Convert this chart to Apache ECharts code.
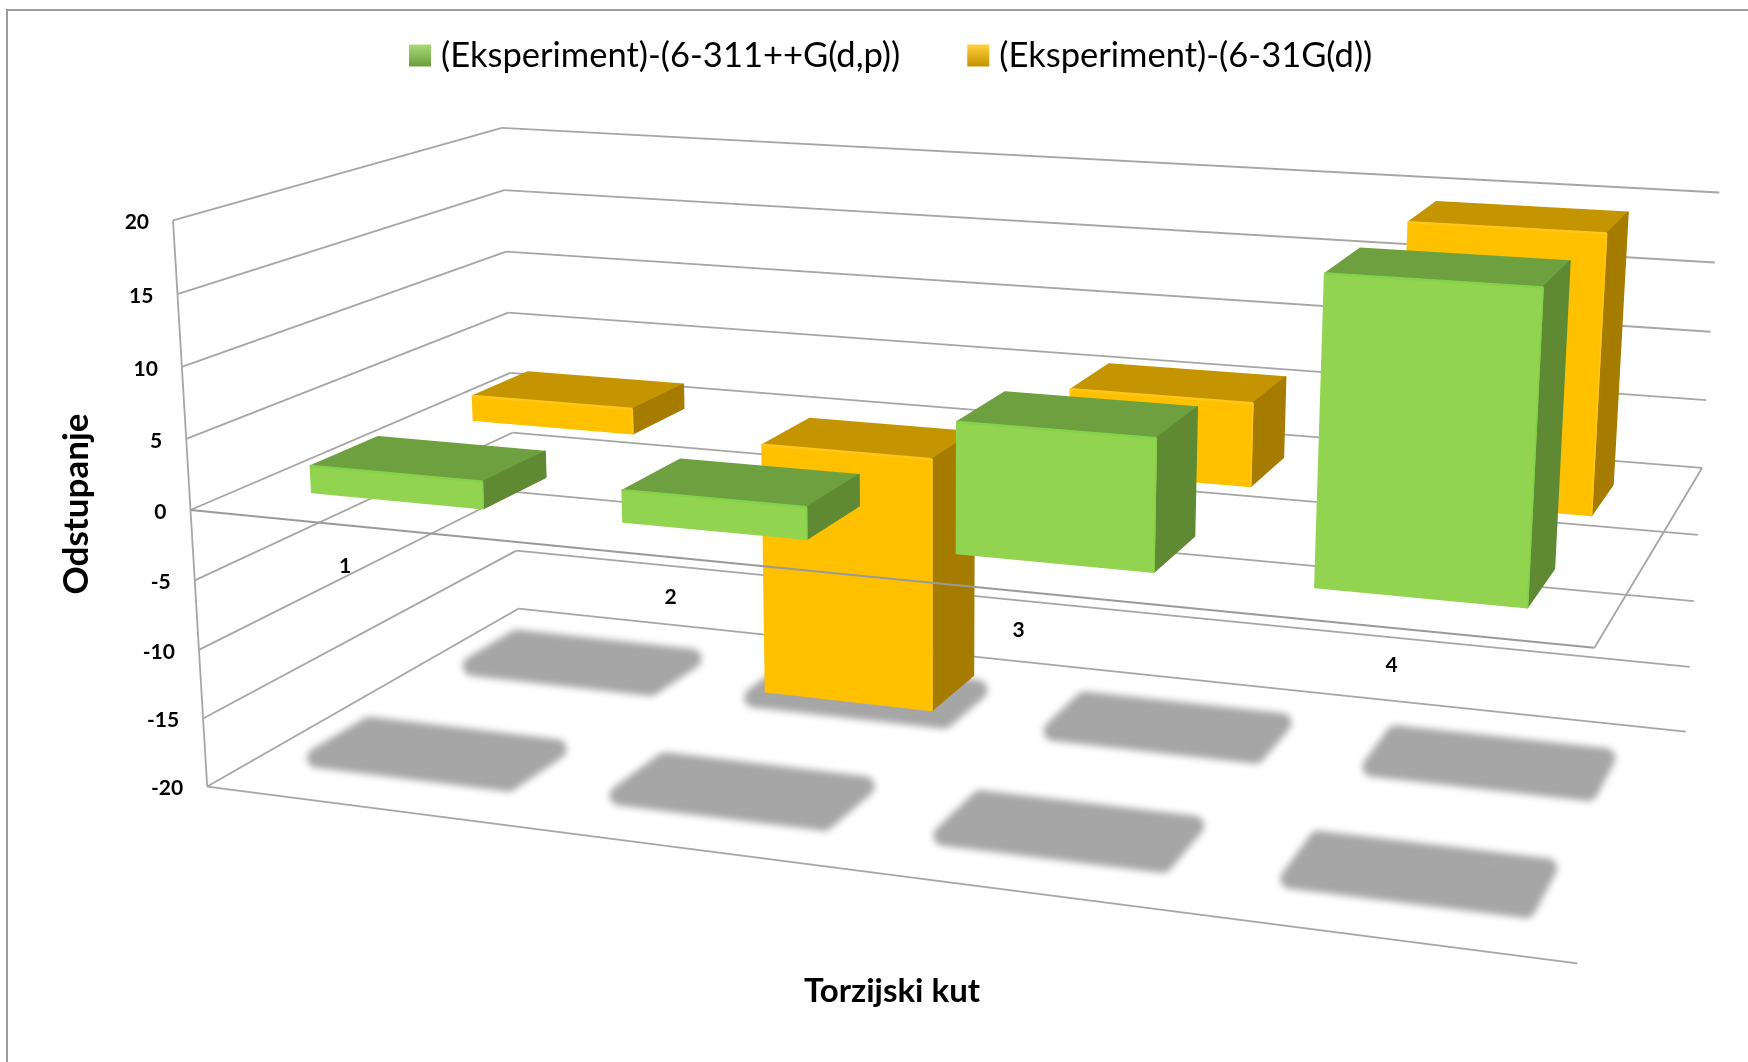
<!DOCTYPE html>
<html><head><meta charset="utf-8">
<style>html,body{margin:0;padding:0;background:#fff}#c{width:1748px;height:1062px}</style>
<script src="https://cdn.jsdelivr.net/npm/echarts@6/dist/echarts.min.js"></script>
</head><body><div id="c"></div>
<script>
const categories = ['1','2','3','4'];
const valueTicks = [20,15,10,5,0,-5,-10,-15,-20];
const seriesNames = ['(Eksperiment)-(6-311++G(d,p))','(Eksperiment)-(6-31G(d))'];
const greenValues = [1.9, 2.2, 8.8, 20];
const yellowValues = [1.9, -19.2, 6, 19.4];

// camera calibration: where the corners of the 3D frame land on the page
// [across 0..1, value 0..1, depth 0..1, pageX, pageY]
const frameAnchors = [
 [0,1,0,172.8,219.6],[0,.5,0,191.7,510.6],[0,0,0,206.2,787],
 [0,1,1,501.7,128.2],[0,.5,1,510.6,373.5],[0,0,1,518.4,607.6],
 [1,1,1,1719,191.7],[1,.5,1,1702.3,468.2],[1,0,1,1685.6,732.4],
 [1,.5,0,1594.2,648.8],[1,0,0,1577.5,962]
];
function solve(A,b){const n=b.length;for(let i=0;i<n;i++){let m=i;for(let r=i+1;r<n;r++)if(Math.abs(A[r][i])>Math.abs(A[m][i]))m=r;
 [A[i],A[m]]=[A[m],A[i]];[b[i],b[m]]=[b[m],b[i]];
 for(let r=i+1;r<n;r++){const f=A[r][i]/A[i][i];for(let c=i;c<n;c++)A[r][c]-=f*A[i][c];b[r]-=f*b[i];}}
 const x=new Array(n);for(let i=n-1;i>=0;i--){let s=b[i];for(let c=i+1;c<n;c++)s-=A[i][c]*x[c];x[i]=s/A[i][i];}return x;}
function calibrate(){const R=[],S=[];frameAnchors.forEach(([u,t,w,px,py])=>{const x=px/1000,y=py/1000;
  R.push([u,t,w,1,0,0,0,0,-x*u,-x*t,-x*w]);S.push(x);R.push([0,0,0,0,u,t,w,1,-y*u,-y*t,-y*w]);S.push(y);});
 const n=11,A=[],b=[];for(let i=0;i<n;i++){A.push(new Array(n).fill(0));b.push(0);
  R.forEach((r,k)=>{for(let j=0;j<n;j++)A[i][j]+=r[i]*r[j];b[i]+=r[i]*S[k];});}
 return solve(A,b);}
const P=calibrate();
function project(u,t,w){const d=P[8]*u+P[9]*t+P[10]*w+1;
 return [1000*(P[0]*u+P[1]*t+P[2]*w+P[3])/d,1000*(P[4]*u+P[5]*t+P[6]*w+P[7])/d];}

const rowSpan=[[.15,.35],[.655,.85]], barWidthInBand=.56, shadowRow=[.25,.75], barShiftU=0;
const lineColor='#a6a6a6';
function frac(params,api,cat,val){const r=params.coordSys,c=api.coord([cat,val]);
 return {u:(c[0]-r.x)/r.width,t:(r.y+r.height-c[1])/r.height,bw:api.size([1,0])[0]/r.width};}
function seg(a,b,color,lw){return {type:'polyline',shape:{points:[a,b]},style:{stroke:color||lineColor,lineWidth:lw||1.8,fill:null}};}

const palette=[
 {front:'#92d450',top:'#6fa03f',side:'#5f8a33',hi:'#84d24c'},
 {front:'#ffc000',top:'#c49500',side:'#a67c00',hi:'#ffc61a'}];
function barItem(row){return function(params,api){
 const cat=api.value(0),val=api.value(1);
 const a=frac(params,api,cat,0),b=frac(params,api,cat,val),c=palette[row];
 const hw=a.bw*barWidthInBand/2,u0=a.u-hw+barShiftU,u1=a.u+hw+barShiftU,
  w0=rowSpan[row][0],w1=rowSpan[row][1],
  hiT=Math.max(a.t,b.t),loT=Math.min(a.t,b.t);
 const f=[project(u0,hiT,w0),project(u1,hiT,w0),project(u1,loT,w0),project(u0,loT,w0)];
 const tp=[project(u0,hiT,w1),project(u1,hiT,w1),project(u1,hiT,w0),project(u0,hiT,w0)];
 const sd=[project(u1,hiT,w0),project(u1,hiT,w1),project(u1,loT,w1),project(u1,loT,w0)];
 const poly=(pts,col)=>({type:'polygon',shape:{points:pts},style:{fill:col,stroke:col,lineWidth:1.5,lineJoin:'round'}});
 return {type:'group',children:[poly(tp,c.top),poly(sd,c.side),poly(f,c.front),
  seg(f[0],f[1],c.hi,2.5),seg(f[1],f[2],c.hi,1.5)]};
};}
const shadowThrow=4000; // the caster sits off the page so only its soft shadow shows
function shadowItem(row){return function(params,api){
 const a=frac(params,api,api.value(0),-20);
 const hw=.08,dw=.08,w=shadowRow[row],U=a.u-.003;
 const pts=[project(U-hw,a.t,w-dw),project(U+hw,a.t,w-dw),project(U+hw,a.t,w+dw),project(U-hw,a.t,w+dw)]
   .map(p=>[p[0]-shadowThrow,p[1]]);
 return {type:'polygon',shape:{points:pts},style:{fill:'#a6a6a6',stroke:'#a6a6a6',lineWidth:20,lineJoin:'round',shadowBlur:7,shadowColor:'#a6a6a6',shadowOffsetX:shadowThrow}};
};}
function frameItem(params,api){
 const tick=api.value(1),t=frac(params,api,0,tick).t;
 const fl=project(0,t,0),bl=project(0,t,1),br=project(1,t,1),kids=[seg(fl,bl),seg(bl,br)];
 if(tick===20)kids.push(seg(fl,project(0,0,0)));
 if(tick===-20)kids.push(seg(fl,project(1,t,0)));
 kids.push({type:'text',style:{x:fl[0]-24,y:fl[1]+2,text:String(tick),fill:'#000',font:'bold 21px Lato',align:'right',verticalAlign:'middle'}});
 return {type:'group',children:kids};
}
function zeroEdgeItem(params,api){
 const t=frac(params,api,0,0).t,a=project(0,t,0),b=project(1,t,0),c=project(1,t,1);
 return {type:'group',children:[seg(a,b,'#9a9a9a',2),seg(b,c,'#a6a6a6',1.8)]};
}
function catLabelItem(params,api){
 const a=frac(params,api,api.value(0),0),d=a.u-.125,p=project(.18+d*.947,a.t,-.1915+d*.044);
 return {type:'text',style:{x:p[0],y:p[1],text:categories[api.value(0)],fill:'#000',font:'bold 21px Lato',align:'center',verticalAlign:'middle'}};
}
const noTip={silent:true,tooltip:{show:false},animation:false,coordinateSystem:'cartesian2d',type:'custom'};
const catData=categories.map((c,i)=>[i,0]);
const opt={
 animation:false,backgroundColor:'#fff',
 grid:{left:200,right:200,top:200,bottom:200},
 xAxis:{type:'category',data:categories,show:false},
 yAxis:{type:'value',min:-20,max:20,interval:5,show:false},
 legend:{show:true,left:404,top:33,itemWidth:22,itemHeight:22,itemGap:67,icon:'rect',selectedMode:false,
  textStyle:{fontFamily:'Lato',fontSize:34.5,color:'#000',padding:[0,0,0,5]},
  data:[
  {name:seriesNames[0],itemStyle:{color:new echarts.graphic.LinearGradient(0,0,0,1,[{offset:0,color:'#a9dc78'},{offset:1,color:'#6a9c3e'}])}},
  {name:seriesNames[1],itemStyle:{color:new echarts.graphic.LinearGradient(0,0,0,1,[{offset:0,color:'#ffd23c'},{offset:1,color:'#c49000'}])}}]},
 series:[
  Object.assign({},noTip,{name:'frame',z:1,data:valueTicks.map(v=>[0,v]),renderItem:frameItem}),
  Object.assign({},noTip,{name:'shadowBack',z:2,data:categories.map((c,i)=>[i,0]),renderItem:shadowItem(1)}),
  Object.assign({},noTip,{name:'shadowFront',z:2,data:categories.map((c,i)=>[i,0]),renderItem:shadowItem(0)}),
  Object.assign({},noTip,{name:seriesNames[1],z:3,itemStyle:{color:palette[1].front},data:yellowValues.map((v,i)=>[i,v]),renderItem:barItem(1)}),
  Object.assign({},noTip,{name:'zeroEdge',z:4,data:[[0,0]],renderItem:zeroEdgeItem}),
  Object.assign({},noTip,{name:seriesNames[0],z:5,itemStyle:{color:palette[0].front},data:greenValues.map((v,i)=>[i,v]),renderItem:barItem(0)}),
  Object.assign({},noTip,{name:'catLabels',z:6,data:catData,renderItem:catLabelItem})
 ],
 graphic:[
  {type:'rect',shape:{x:7,y:10,width:1800,height:1100},style:{fill:null,stroke:'#9c9c9c',lineWidth:2},z:0,silent:true},
  {type:'text',x:77,y:504,rotation:Math.PI/2,style:{text:'Odstupanje',fill:'#000',font:'bold 35px Lato',align:'center',verticalAlign:'middle'},silent:true},
  {type:'text',x:892,y:991,style:{text:'Torzijski kut',fill:'#000',font:'bold 33px Lato',align:'center',verticalAlign:'middle'},silent:true}
 ]
};
const chart=echarts.init(document.getElementById('c'),null,{renderer:'canvas',width:1748,height:1062});
chart.setOption(opt);
</script></body></html>
